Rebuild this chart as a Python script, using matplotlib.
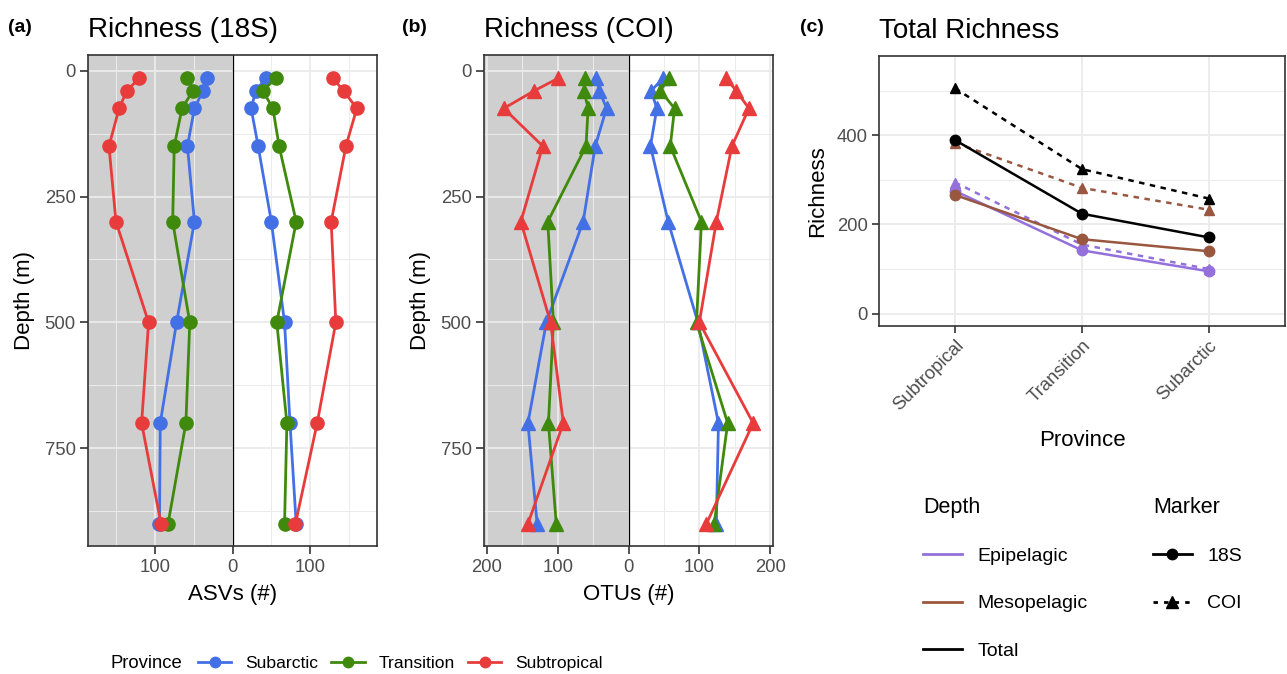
import matplotlib
matplotlib.use("Agg")
import matplotlib.pyplot as plt
from matplotlib.lines import Line2D
import numpy as np

plt.rcParams['font.family'] = ['Liberation Sans', 'DejaVu Sans']

# ---------------- data ----------------
depths = [15, 40, 75, 150, 300, 500, 700, 900]

# Panel (a) 18S ASVs: left side (shaded) and right side
asv_left_subarctic = [33, 38, 49, 58, 49, 72, 93, 94]
asv_left_transition = [58, 51, 65, 75, 77, 55, 60, 83]
asv_left_subtropical = [120, 136, 146, 159, 150, 108, 117, 92]
asv_right_subarctic = [43, 30, 24, 33, 50, 67, 74, 82]
asv_right_transition = [56, 39, 52, 60, 82, 57, 70, 67]
asv_right_subtropical = [129, 143, 160, 146, 127, 133, 109, 81]

# Panel (b) COI OTUs
otu_left_subarctic = [46, 41, 31, 47, 64, 116, 142, 129]
otu_left_transition = [61, 63, 57, 60, 114, 106, 113, 102]
otu_left_subtropical = [99, 133, 176, 121, 152, 110, 92, 142]
otu_right_subarctic = [49, 32, 40, 31, 56, 98, 127, 124]
otu_right_transition = [57, 45, 65, 59, 103, 96, 140, 121]
otu_right_subtropical = [138, 152, 170, 146, 124, 100, 176, 110]

# Panel (c) total richness
provinces_c = ["Subtropical", "Transition", "Subarctic"]
epi_18s = [275, 142, 95]
epi_coi = [294, 155, 100]
meso_18s = [266, 167, 140]
meso_coi = [383, 282, 233]
total_18s = [389, 224, 171]
total_coi = [505, 324, 258]

province_names = ["Subarctic", "Transition", "Subtropical"]
province_colors = ["#4470E6", "#3F8A0C", "#E83C3C"]
depth_names = ["Epipelagic", "Mesopelagic", "Total"]
depth_colors = ["#9370DB", "#9A5740", "#000000"]

GRID = "#EBEBEB"
BORDER = "#333333"
TICKLAB = "#4D4D4D"

fig = plt.figure(figsize=(12.87, 6.74), dpi=100)
W, H = 1287, 674


def ax_px(l, t, r, b):
    return fig.add_axes([l / W, 1 - b / H, (r - l) / W, (b - t) / H])


def style_frame(ax):
    for s in ax.spines.values():
        s.set_color(BORDER)
        s.set_linewidth(1.2)
    ax.tick_params(which='major', length=5.5, width=1.2, color=BORDER,
                   labelsize=13.3, labelcolor=TICKLAB, pad=3.5)
    ax.tick_params(which='minor', length=0)


def style_depth_axis(ax, lim, majors, minors):
    ax.set_xlim(-lim, lim)
    ax.set_ylim(944, -31)
    ax.set_xticks(majors)
    ax.set_xticklabels([str(abs(v)) for v in majors])
    ax.set_xticks(minors, minor=True)
    ax.set_yticks([0, 250, 500, 750])
    ax.set_yticks([125, 375, 625, 875], minor=True)
    ax.grid(True, which='major', color=GRID, lw=1.3, zorder=0)
    ax.grid(True, which='minor', color=GRID, lw=0.7, zorder=0)
    ax.set_axisbelow(True)
    ax.axvspan(-lim, 0, color='black', alpha=0.19, lw=0, zorder=0.5)
    ax.axvline(0, color='black', lw=0.9, zorder=1)
    style_frame(ax)
    ax.set_ylabel("Depth (m)", fontsize=16, labelpad=7)


def draw_depth_panel(ax, lefts, rights, marker):
    for name, col, lv, rv in zip(province_names, province_colors, lefts, rights):
        ax.plot([-v for v in lv], depths, color=col, lw=2.0, marker=marker,
                ms=9.5, zorder=3)
        ax.plot(rv, depths, color=col, lw=2.0, marker=marker, ms=9.5, zorder=3)


# ---------------- panel (a) ----------------
axa = ax_px(88, 55, 377, 546)
style_depth_axis(axa, 186, [-100, 0, 100], [-150, -50, 50, 150])
draw_depth_panel(axa,
                 [asv_left_subarctic, asv_left_transition, asv_left_subtropical],
                 [asv_right_subarctic, asv_right_transition, asv_right_subtropical],
                 'o')
axa.set_xlabel("ASVs (#)", fontsize=16, labelpad=6)
axa.set_title("Richness (18S)", fontsize=20, loc='left', pad=13)

# ---------------- panel (b) ----------------
axb = ax_px(484, 55, 773, 546)
style_depth_axis(axb, 204, [-200, -100, 0, 100, 200], [-150, -50, 50, 150])
draw_depth_panel(axb,
                 [otu_left_subarctic, otu_left_transition, otu_left_subtropical],
                 [otu_right_subarctic, otu_right_transition, otu_right_subtropical],
                 '^')
axb.set_xlabel("OTUs (#)", fontsize=16, labelpad=6)
axb.set_title("Richness (COI)", fontsize=20, loc='left', pad=13)

# ---------------- panel (c) ----------------
axc = ax_px(879, 56, 1285, 326)
xs = np.arange(1, len(provinces_c) + 1)
axc.set_xlim(0.4, 3.6)
axc.set_ylim(-27.5, 577.5)
axc.set_xticks(xs)
axc.set_xticklabels(provinces_c, rotation=45, ha='right', rotation_mode='anchor')
axc.set_yticks([0, 200, 400])
axc.set_yticks([100, 300, 500], minor=True)
axc.grid(True, which='major', color=GRID, lw=1.3, zorder=0)
axc.grid(True, which='minor', axis='y', color=GRID, lw=0.7, zorder=0)
axc.set_axisbelow(True)
style_frame(axc)
axc.tick_params(which='major', length=5, pad=3)
axc.set_ylabel("Richness", fontsize=16, labelpad=6)
axc.set_xlabel("Province", fontsize=16, labelpad=11)
axc.set_title("Total Richness", fontsize=20, loc='left', pad=13)

dash = (0, (2.2, 2.2))
series_c = [
    (epi_coi, depth_colors[0], '^', dash),
    (meso_coi, depth_colors[1], '^', dash),
    (total_coi, depth_colors[2], '^', dash),
    (epi_18s, depth_colors[0], 'o', '-'),
    (meso_18s, depth_colors[1], 'o', '-'),
    (total_18s, depth_colors[2], 'o', '-'),
]
for vals, col, mk, ls in series_c:
    axc.plot(xs, vals, color=col, marker=mk, ls=ls, lw=1.8, ms=7.5, zorder=3)

# ---------------- panel tags ----------------
for txt, x in [("(a)", 8), ("(b)", 402), ("(c)", 800)]:
    fig.text(x / W, 1 - 28 / H, txt, fontsize=14, fontweight='bold', va='center')

# ---------------- legends ----------------
fig.text(110 / W, 1 - 663 / H, "Province", fontsize=13.3, va='center')
prov_handles = [Line2D([], [], color=c, lw=2.0, marker='o', ms=7.5)
                for c in province_colors]
fig.legend(prov_handles, province_names, loc='center left',
           bbox_to_anchor=(198 / W, 1 - 663 / H), ncol=3, frameon=False,
           fontsize=12.6, handlelength=1.9, handletextpad=0.8,
           columnspacing=0.75, borderaxespad=0, borderpad=0)

depth_handles = [Line2D([], [], color=c, lw=2.0) for c in depth_colors]
leg1 = fig.legend(depth_handles, depth_names, loc='upper left',
                  bbox_to_anchor=(923 / W, 1 - 497 / H), frameon=False,
                  fontsize=14, title="Depth", title_fontsize=15.5,
                  alignment='left', handlelength=2.0, handletextpad=0.8,
                  labelspacing=1.52, borderaxespad=0, borderpad=0)

marker_handles = [Line2D([], [], color='black', lw=2.0, marker='o', ms=7.5),
                  Line2D([], [], color='black', lw=2.0, marker='^', ms=8,
                         ls=(0, (1.6, 2.2)))]
leg2 = fig.legend(marker_handles, ["18S", "COI"], loc='upper left',
                  bbox_to_anchor=(1153 / W, 1 - 497 / H), frameon=False,
                  fontsize=14, title="Marker", title_fontsize=15.5,
                  alignment='left', handlelength=2.0, handletextpad=0.8,
                  labelspacing=1.52, borderaxespad=0, borderpad=0)

fig.savefig("out.png", dpi=100)
